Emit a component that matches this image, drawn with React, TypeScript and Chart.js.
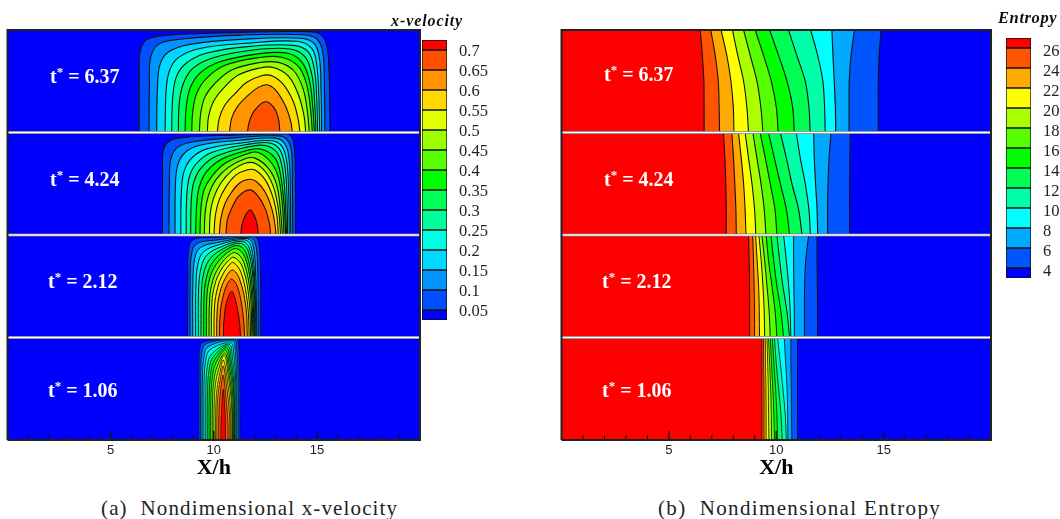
import React, { useEffect, useRef } from "react";
import { Chart, registerables } from "chart.js";

Chart.register(...registerables);

const timeLabels = ["6.37", "4.24", "2.12", "1.06"];
const rowBases = [3, 2, 1, 0];
const xTickLabels = [5, 10, 15];
const minorTicks = [1, 2, 3, 4, 6, 7, 8, 9, 11, 12, 13, 14, 16, 17, 18, 19];

const velocityLabels = ["0.05", "0.1", "0.15", "0.2", "0.25", "0.3", "0.35", "0.4", "0.45", "0.5", "0.55", "0.6", "0.65", "0.7"];
const velocityLevels = [0.05, 0.1, 0.15, 0.2, 0.25, 0.3, 0.35, 0.4, 0.45, 0.5, 0.55, 0.6, 0.65, 0.7];
const velocityColors = ["#0000ff", "#0050ff", "#0094ff", "#00d9ff", "#00ffe0", "#00ff9c", "#00ff58", "#00ff00", "#58ff00", "#9cff00", "#e0ff00", "#ffd900", "#ff9400", "#ff5000", "#ff0000"];

const entropyLabels = ["4", "6", "8", "10", "12", "14", "16", "18", "20", "22", "24", "26"];
const entropyLevels = [4, 6, 8, 10, 12, 14, 16, 18, 20, 22, 24, 26];
const entropyColors = ["#0000ff", "#0055ff", "#00aaff", "#00ffff", "#00ffaa", "#00ff55", "#00ff00", "#55ff00", "#aaff00", "#ffff00", "#ffaa00", "#ff5500", "#ff0000"];

// x-velocity contours: x, y (0-1 within the row) pairs, lowest level first
const velocity637 = [
  [6.38,0,6.39,.6,6.42,.78,6.75,.906,7.72,.948,10.79,.974,14.5,.984,15.15,.961,15.47,.857,15.59,.6,15.64,0],
  [6.86,0,6.88,.47,6.94,.73,7.31,.86,8.36,.91,11.27,.95,14.34,.954,14.99,.915,15.28,.79,15.36,.5,15.39,0],
  [7.23,0,7.27,.43,7.39,.66,7.8,.785,8.85,.86,11.43,.91,14.18,.92,14.86,.87,15.12,.73,15.2,.43,15.23,0],
  [7.64,0,7.69,.4,7.85,.6,8.28,.73,9.33,.82,11.6,.87,14.02,.89,14.75,.82,14.99,.66,15.09,.37,15.14,0],
  [7.96,0,8.01,.34,8.2,.55,8.69,.68,9.66,.775,11.76,.84,13.86,.85,14.59,.785,14.88,.61,14.99,.34,15.04,0],
  [8.28,0,8.33,.29,8.53,.48,9.01,.63,9.98,.73,11.92,.805,13.7,.815,14.42,.74,14.76,.56,14.89,.29,14.96,0],
  [8.61,0,8.66,.24,8.85,.43,9.33,.58,10.3,.69,12.08,.765,13.54,.775,14.26,.69,14.63,.515,14.8,.25,14.88,0],
  [8.93,0,8.98,.2,9.17,.38,9.66,.53,10.55,.655,12.16,.73,13.29,.735,14.1,.645,14.5,.47,14.7,.22,14.78,0],
  [9.3,0,9.37,.19,9.58,.35,10.06,.48,10.87,.61,12.16,.68,13.13,.684,13.89,.6,14.34,.42,14.55,.19,14.63,0],
  [9.69,0,9.75,.16,9.98,.3,10.46,.43,11.19,.56,12.24,.63,12.89,.635,13.62,.55,14.1,.37,14.38,.16,14.46,0],
  [10.17,0,10.27,.14,10.55,.27,11.03,.38,11.6,.49,12.32,.554,12.81,.554,13.37,.47,13.86,.3,14.1,.12,14.18,0],
  [10.76,0,10.87,.14,11.14,.25,11.6,.35,12.16,.44,12.57,.466,12.97,.42,13.45,.27,13.73,.11,13.81,0],
  [11.63,0,11.73,.11,12,.22,12.49,.3,12.89,.25,13.13,.14,13.21,0],
];
const velocity424 = [
  [7.51,0,7.52,.6,7.56,.83,7.88,.92,8.69,.954,10.95,.974,13.29,.987,13.7,.974,13.89,.88,13.96,.6,13.97,0],
  [7.83,0,7.85,.5,7.93,.75,8.28,.86,9.01,.91,11.11,.95,13.13,.967,13.53,.935,13.76,.83,13.81,.5,13.83,0],
  [8.12,0,8.14,.47,8.25,.68,8.61,.805,9.33,.876,11.27,.925,12.97,.945,13.41,.9,13.63,.78,13.71,.47,13.73,0],
  [8.4,0,8.43,.42,8.56,.62,8.93,.75,9.66,.84,11.43,.9,12.81,.92,13.29,.87,13.53,.73,13.63,.42,13.66,0],
  [8.66,0,8.69,.375,8.82,.57,9.17,.7,9.9,.805,11.52,.88,12.65,.9,13.18,.84,13.44,.68,13.55,.375,13.58,0],
  [8.88,0,8.91,.33,9.04,.52,9.41,.66,10.14,.77,11.6,.857,12.49,.873,13.08,.8,13.34,.635,13.47,.33,13.53,0],
  [9.12,0,9.17,.29,9.3,.47,9.66,.62,10.38,.74,11.6,.824,12.32,.837,12.97,.75,13.24,.586,13.41,.29,13.49,0],
  [9.33,0,9.38,.26,9.53,.44,9.9,.57,10.55,.7,11.6,.79,12.16,.805,12.81,.7,13.16,.54,13.34,.26,13.41,0],
  [9.54,0,9.59,.23,9.75,.39,10.11,.54,10.71,.66,11.52,.743,12,.75,12.65,.65,13.05,.49,13.24,.23,13.33,0],
  [9.79,0,9.83,.21,9.99,.36,10.34,.505,10.92,.635,11.52,.7,12,.7,12.57,.6,12.94,.44,13.16,.21,13.24,0],
  [10.01,0,10.08,.195,10.26,.34,10.59,.47,11.08,.586,11.6,.635,12,.635,12.49,.54,12.86,.375,13.07,.18,13.13,0],
  [10.27,0,10.34,.16,10.55,.31,10.87,.42,11.27,.51,11.73,.544,12.08,.52,12.49,.42,12.81,.26,12.97,.1,13.02,0],
  [10.59,0,10.66,.15,10.87,.26,11.19,.375,11.73,.44,12.11,.39,12.49,.26,12.7,.11,12.76,0],
  [11.31,0,11.37,.1,11.52,.186,11.76,.244,11.95,.195,12.11,.1,12.16,0],
];
const velocity212 = [
  [8.73,0,8.75,.62,8.8,.879,9.04,.958,9.82,.974,11.92,.987,12.16,.945,12.26,.651,12.27,0],
  [8.85,0,8.86,.586,8.94,.831,9.2,.919,9.98,.948,11.67,.977,12,.932,12.13,.651,12.16,0],
  [8.98,0,8.99,.554,9.09,.782,9.36,.879,10.14,.925,11.56,.967,11.88,.919,12.03,.619,12.09,0],
  [9.12,0,9.14,.521,9.25,.733,9.53,.84,10.27,.906,11.43,.954,11.79,.899,11.98,.586,12.05,0],
  [9.25,0,9.27,.489,9.4,.69,9.69,.808,10.38,.886,11.35,.938,11.72,.873,11.95,.554,12.01,0],
  [9.38,0,9.41,.456,9.54,.651,9.85,.775,10.46,.866,11.27,.919,11.66,.847,11.92,.521,11.98,0],
  [9.51,0,9.54,.433,9.69,.619,9.98,.743,10.54,.847,11.19,.896,11.59,.814,11.87,.489,11.95,0],
  [9.64,0,9.67,.407,9.82,.586,10.11,.71,10.62,.821,11.11,.866,11.53,.775,11.82,.456,11.9,0],
  [9.77,0,9.8,.375,9.95,.554,10.24,.684,10.66,.788,11.06,.827,11.46,.733,11.77,.423,11.85,0],
  [9.88,0,9.91,.342,10.06,.521,10.33,.651,10.71,.749,10.98,.782,11.4,.684,11.71,.375,11.79,0],
  [10.01,0,10.04,.309,10.19,.489,10.43,.612,10.75,.707,10.95,.733,11.34,.625,11.64,.326,11.72,0],
  [10.14,0,10.17,.277,10.3,.44,10.54,.57,10.9,.658,11.25,.57,11.56,.293,11.63,0],
  [10.27,0,10.32,.244,10.46,.407,10.66,.521,10.87,.57,11.16,.489,11.42,.228,11.5,0],
  [10.46,0,10.5,.179,10.62,.342,10.87,.45,11.08,.342,11.25,.147,11.3,0],
];
const velocity106 = [
  [9.28,0,9.29,.65,9.34,.91,9.55,.96,11.11,.987,11.2,.94,11.26,.6,11.27,0],
  [9.36,0,9.37,.6,9.43,.86,9.64,.94,10.99,.977,11.1,.92,11.18,.6,11.19,0],
  [9.44,0,9.45,.57,9.52,.8,9.73,.91,10.91,.967,11.03,.89,11.11,.57,11.12,0],
  [9.52,0,9.53,.53,9.6,.76,9.82,.88,10.82,.948,10.96,.86,11.07,.54,11.08,0],
  [9.61,0,9.62,.5,9.69,.72,9.9,.84,10.74,.935,10.9,.82,11.03,.5,11.04,0],
  [9.69,0,9.7,.47,9.77,.68,9.97,.81,10.67,.919,10.85,.78,10.99,.47,11,0],
  [9.77,0,9.78,.44,9.85,.65,10.03,.78,10.62,.9,10.8,.75,10.97,.44,10.98,0],
  [9.85,0,9.86,.41,9.93,.61,10.1,.75,10.57,.876,10.76,.71,10.93,.41,10.95,0],
  [9.93,0,9.94,.38,10,.57,10.17,.72,10.54,.85,10.72,.68,10.89,.38,10.91,0],
  [10.01,0,10.02,.35,10.08,.54,10.24,.69,10.51,.827,10.69,.64,10.86,.35,10.88,0],
  [10.09,0,10.1,.32,10.16,.5,10.3,.66,10.46,.781,10.65,.6,10.81,.3,10.83,0],
  [10.15,0,10.16,.28,10.22,.46,10.34,.62,10.46,.723,10.6,.56,10.76,.26,10.78,0],
  [10.24,0,10.25,.24,10.3,.42,10.38,.56,10.46,.632,10.56,.48,10.68,.2,10.7,0],
  [10.35,0,10.36,.2,10.4,.36,10.46,.495,10.52,.36,10.56,.2,10.57,0],
];

// Entropy contours: x at the heights in entropyHeights, lowest level first
const entropyHeights = [0, 0.25, 0.5, 0.75, 1];
const entropy637 = [
  [14.75,14.75,14.75,14.79,14.88],
  [13.39,13.39,13.4,13.48,13.64],
  [12.77,12.75,12.7,12.64,12.59],
  [12.28,12.25,12.17,11.93,11.6],
  [11.58,11.52,11.35,10.96,10.57],
  [10.84,10.76,10.5,10.11,9.69],
  [10.09,10,9.77,9.41,9.02],
  [9.38,9.28,9.1,8.79,8.48],
  [8.71,8.63,8.48,8.21,7.96],
  [8.03,8,7.89,7.7,7.43],
  [7.36,7.34,7.3,7.16,6.95],
  [6.64,6.64,6.63,6.56,6.46],
];
const entropy424 = [
  [13.42,13.42,13.42,13.43,13.45],
  [12.39,12.39,12.41,12.46,12.55],
  [11.93,11.9,11.83,11.77,11.74],
  [11.59,11.52,11.35,11.12,10.93],
  [11.2,11.04,10.73,10.47,10.19],
  [10.62,10.47,10.19,9.91,9.64],
  [10.03,9.94,9.72,9.49,9.25],
  [9.52,9.44,9.29,9.1,8.91],
  [9.05,8.99,8.87,8.71,8.55],
  [8.59,8.55,8.48,8.37,8.24],
  [8.14,8.12,8.07,8.01,7.93],
  [7.67,7.67,7.65,7.61,7.54],
];
const entropy212 = [
  [11.93,11.93,11.91,11.9,11.9],
  [11.31,11.31,11.32,11.37,11.51],
  [10.84,10.84,10.82,10.81,10.81],
  [10.68,10.65,10.58,10.47,10.34],
  [10.62,10.5,10.31,10.16,10.03],
  [10.34,10.22,10.03,9.88,9.75],
  [10.03,9.95,9.8,9.64,9.53],
  [9.72,9.67,9.57,9.46,9.33],
  [9.46,9.44,9.38,9.3,9.19],
  [9.22,9.21,9.18,9.11,9.04],
  [8.99,8.99,8.97,8.94,8.9],
  [8.76,8.76,8.76,8.74,8.71],
];
const entropy106 = [
  [10.99,10.99,10.99,10.99,10.99],
  [10.73,10.71,10.7,10.68,10.68],
  [10.54,10.53,10.5,10.44,10.37],
  [10.47,10.42,10.31,10.19,10.06],
  [10.28,10.22,10.11,10,9.91],
  [10.06,10.03,9.97,9.89,9.81],
  [9.92,9.89,9.84,9.78,9.72],
  [9.78,9.77,9.74,9.69,9.64],
  [9.66,9.64,9.63,9.6,9.57],
  [9.53,9.53,9.52,9.5,9.49],
  [9.43,9.43,9.43,9.41,9.41],
  [9.33,9.33,9.33,9.33,9.33],
];

const velocityRows = [velocity637, velocity424, velocity212, velocity106];
const entropyRows = [entropy637, entropy424, entropy212, entropy106];
const contourWidths = [1.1, 1.1, 1, 0.8];

const X_MIN = 0;
const X_MAX = 20;
const ROWS = 4;

const base = { showLine: true, pointRadius: 0, pointHitRadius: 0 };

function boxPoints() {
  return [
    { x: X_MIN, y: 0 }, { x: X_MAX, y: 0 }, { x: X_MAX, y: ROWS }, { x: X_MIN, y: ROWS }, { x: X_MIN, y: 0 },
  ];
}

function decorations() {
  const out: any[] = [];
  const sep = rowBases.filter((b) => b > 0).flatMap((b) => [{ x: X_MIN, y: b }, { x: X_MAX, y: b }, { x: NaN, y: NaN }]);
  out.push({ ...base, data: sep, borderColor: "#777", borderWidth: 3, fill: false, tension: 0 });
  out.push({ ...base, data: sep, borderColor: "#ffffff", borderWidth: 1.7, fill: false, tension: 0 });
  const tick = (list: number[], h: number) =>
    list.flatMap((x) => [{ x, y: 0 }, { x, y: h }, { x: NaN, y: NaN }]);
  out.push({ ...base, data: tick(minorTicks, 0.05), borderColor: "#111", borderWidth: 1, fill: false, tension: 0 });
  out.push({ ...base, data: tick(xTickLabels, 0.09), borderColor: "#111", borderWidth: 1.4, fill: false, tension: 0 });
  out.push({ ...base, data: boxPoints(), borderColor: "#222", borderWidth: 2, fill: false, tension: 0, clip: 4 });
  return out;
}

function velocityDatasets() {
  const out: any[] = [{ ...base, data: boxPoints(), backgroundColor: velocityColors[0], borderWidth: 0, fill: "shape", tension: 0 }];
  velocityRows.forEach((row, r) => {
    row.forEach((flat, i) => {
      const data: { x: number; y: number }[] = [];
      for (let k = 0; k < flat.length; k += 2) data.push({ x: flat[k], y: flat[k + 1] + rowBases[r] });
      // the contour belongs to velocityLevels[i], and encloses the band above it
      out.push({
        ...base, label: String(velocityLevels[i]), data, backgroundColor: velocityColors[i + 1],
        borderColor: "#111", borderWidth: contourWidths[r], fill: "shape", tension: 0.38,
      });
    });
  });
  return [...out, ...decorations()];
}

function entropyDatasets() {
  const fills: any[] = [{ ...base, data: boxPoints(), backgroundColor: entropyColors[0], borderWidth: 0, fill: "shape", tension: 0 }];
  const strokes: any[] = [];
  entropyRows.forEach((row, r) => {
    row.forEach((xs, i) => {
      const edge = xs.map((x, j) => ({ x, y: entropyHeights[j] + rowBases[r] }));
      fills.push({
        ...base, label: String(entropyLevels[i]),
        data: [{ x: X_MIN, y: rowBases[r] }, ...edge, { x: X_MIN, y: rowBases[r] + 1 }],
        backgroundColor: entropyColors[i + 1], borderWidth: 0, fill: "shape", tension: 0,
      });
      strokes.push({ ...base, data: edge, borderColor: "#111", borderWidth: contourWidths[r], fill: false, tension: 0.35 });
    });
  });
  return [...fills, ...strokes, ...decorations()];
}

function panelConfig(datasets: any[], left: number, right: number): any {
  return {
    type: "scatter",
    data: { datasets: datasets.map((d, i) => ({ ...d, order: -i })) },
    options: {
      animation: false,
      responsive: false,
      devicePixelRatio: 1,
      layout: { autoPadding: false, padding: { left, right, top: 30, bottom: 0 } },
      plugins: { legend: { display: false }, tooltip: { enabled: false } },
      events: [],
      scales: {
        x: {
          type: "linear",
          min: X_MIN,
          max: X_MAX,
          grid: { display: false, drawTicks: false },
          border: { display: false },
          afterFit: (s: any) => { s.height = 40; s.paddingLeft = 0; s.paddingRight = 0; },
          ticks: {
            stepSize: 5,
            padding: 3,
            color: "#222",
            font: { family: "Liberation Sans", size: 13 },
            maxRotation: 0,
            callback: (v: number) => (xTickLabels.includes(v) ? String(v) : ""),
          },
          title: {
            display: true,
            text: "X/h",
            color: "#000",
            padding: 0,
            font: { family: "Liberation Serif", size: 22, weight: "bold", lineHeight: 1.1 },
          },
        },
        y: { type: "linear", min: 0, max: ROWS, display: false },
      },
    },
  };
}

function barConfig(colors: string[], levels: number[], labels: string[], lo: number, hi: number, opts: any): any {
  const edges = [lo, ...levels, hi];
  return {
    type: "bar",
    data: {
      labels: [""],
      datasets: colors.map((c, i) => ({
        data: [[edges[i], edges[i + 1]]],
        backgroundColor: c,
        borderColor: "#111",
        borderWidth: 1,
        borderSkipped: false,
        barPercentage: 1,
        categoryPercentage: 1,
        grouped: false,
      })),
    },
    options: {
      animation: false,
      responsive: false,
      devicePixelRatio: 1,
      events: [],
      layout: { autoPadding: false, padding: { left: opts.left, right: 0, top: opts.top, bottom: opts.bottom } },
      plugins: { legend: { display: false }, tooltip: { enabled: false } },
      scales: {
        x: { display: false, stacked: false },
        y: {
          type: "linear",
          position: "right",
          min: lo,
          max: hi,
          grid: { display: false, drawTicks: false },
          border: { display: false },
          // the scale's own label padding would shrink the bar, which is fixed by the layout padding
          afterFit: (s: any) => { s.width = opts.axisWidth; s.paddingTop = 0; s.paddingBottom = 0; },
          afterBuildTicks: (s: any) => { s.ticks = levels.map((value) => ({ value })); },
          ticks: {
            autoSkip: false,
            padding: 12,
            labelOffset: opts.labelOffset,
            color: "#222",
            font: { family: "Liberation Serif", size: 16.5 },
            callback: (v: number) => labels[levels.indexOf(v)] ?? "",
          },
        },
      },
    },
  };
}

const abs = (left: number, top: number): React.CSSProperties => ({ position: "absolute", left, top });

function RowLabel({ left, top, value }: { left: number; top: number; value: string }) {
  return (
    <div style={{ ...abs(left, top), color: "#fff", font: "bold 20px 'Liberation Serif'", lineHeight: "24px", whiteSpace: "nowrap" }}>
      t<sup style={{ fontSize: 13, lineHeight: 0, verticalAlign: "7px" }}>*</sup> = {value}
    </div>
  );
}

export default function App() {
  const a = useRef<HTMLCanvasElement>(null);
  const b = useRef<HTMLCanvasElement>(null);
  const c = useRef<HTMLCanvasElement>(null);
  const d = useRef<HTMLCanvasElement>(null);

  useEffect(() => {
    document.body.style.background = "#fff";
    const charts = [
      new Chart(a.current!, panelConfig(velocityDatasets(), 7.5, 10)),
      new Chart(b.current!, panelConfig(entropyDatasets(), 11.5, 9)),
      new Chart(c.current!, barConfig(velocityColors, velocityLevels, velocityLabels, 0.025, 0.725, { left: 2, top: 10, bottom: 10, axisWidth: 53, labelOffset: 2 })),
      new Chart(d.current!, barConfig(entropyColors, entropyLevels, entropyLabels, 3, 27, { left: 8, top: 8, bottom: 2, axisWidth: 29, labelOffset: 4 })),
    ];
    return () => charts.forEach((ch) => ch.destroy());
  }, []);

  const leftY = [64, 167, 269, 378];
  const leftX = [50, 50, 48, 48];
  const rightY = [62, 167, 269, 378];
  const rightX = [604, 604, 602, 602];

  return (
    <div style={{ position: "absolute", left: 0, top: 0, width: 1060, height: 519, overflow: "hidden", background: "#fff" }}>
      <canvas ref={a} width={430} height={480} style={abs(0, 0)} />
      <canvas ref={b} width={450} height={480} style={abs(550, 0)} />
      <canvas ref={c} width={80} height={300} style={abs(420, 30)} />
      <canvas ref={d} width={62} height={250} style={abs(998, 30)} />
      {timeLabels.map((t, i) => <RowLabel key={"l" + t} left={leftX[i]} top={leftY[i]} value={t} />)}
      {timeLabels.map((t, i) => <RowLabel key={"r" + t} left={rightX[i]} top={rightY[i]} value={t} />)}
      <div style={{ ...abs(391, 12), font: "italic bold 16px 'Liberation Serif'", lineHeight: "18px", letterSpacing: "0.9px", color: "#111", whiteSpace: "nowrap" }}>x-velocity</div>
      <div style={{ ...abs(998, 9), font: "italic bold 16.5px 'Liberation Serif'", lineHeight: "18px", letterSpacing: "0.6px", color: "#111", whiteSpace: "nowrap" }}>Entropy</div>
      <div style={{ ...abs(101, 497), font: "21px 'Liberation Serif'", lineHeight: "22px", letterSpacing: "1.14px", color: "#222", whiteSpace: "nowrap" }}>(a)&nbsp; Nondimensional x-velocity</div>
      <div style={{ ...abs(658, 497), font: "21px 'Liberation Serif'", lineHeight: "22px", letterSpacing: "1.35px", color: "#222", whiteSpace: "nowrap" }}>(b)&nbsp; Nondimensional Entropy</div>
    </div>
  );
}
